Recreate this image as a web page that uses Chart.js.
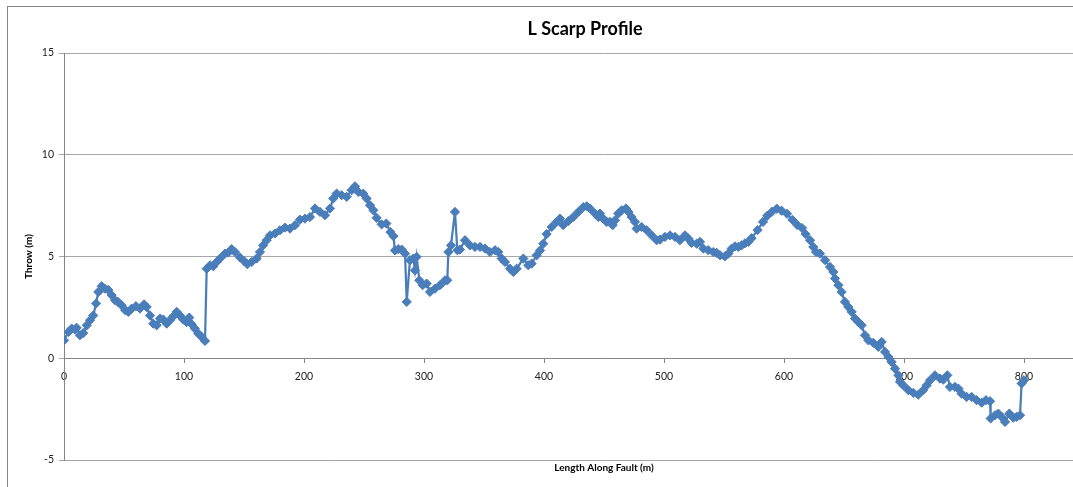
<!DOCTYPE html>
<html>
<head>
<meta charset="utf-8">
<script src="https://cdn.jsdelivr.net/npm/chart.js@4/dist/chart.umd.min.js"></script>
<style>
html,body{margin:0;padding:0;background:#fff;overflow:hidden;width:1073px;height:487px}
canvas{display:block}
</style>
</head>
<body>
<canvas id="c" width="1170" height="520"></canvas>
<script>
// L scarp profile
const lengthAlong=[0,3.6,6.4,9.2,10.5,13.3,16,19,21.7,24.4,26.7,28.6,31.4,34,36.9,39.7,42.5,45,48,51,53.6,56.4,60,63.3,66.7,68.9,71.7,74.4,77.2,80,82.8,85.6,88.3,91.1,93.9,96.7,99.4,102.2,104.4,106.4,109,112,114.7,117.5,
118.9,121.7,124.4,127.2,130,134.2,137,139.7,142.5,146.7,150,152.8,156.4,160.5,163.3,166,168.9,171.7,175.8,180,184.2,188.3,192.5,196.7,200.8,205,209.2,213.3,217.5,221.7,224.4,227.2,231.4,235.6,239.7,242.5,245.3,249.4,252.2,255,257.8,260.5,264.7,268.6,272,274.5,275.8,278.6,281.4,284.2,285.6,288.3,291.1,292.5,293.9,296.1,298.9,302.2,305,309.2,313.3,317.5,319.4,320.3,322.5,325.8,327.8,330,334.2,338.3,342.5,346.7,350.8,355,359.2,361.9,364.7,367.5,371.7,374.4,377.2,382.8,386.9,389.7,393.9,396.7,399.4,402.2,406.4,410.5,413.3,416,420.3,424.4,428.6,432.8,435.6,438.3,442.5,445.3,446.7,449.4,452.2,455,457.2,459.2,461.9,464.7,468.3,470.3,473,475.8,477.2,481.4,485.6,489.7,493.9,496.7,500.8,505,509.2,513.3,517.5,520.3,523,527.2,530,532.8,536.9,541,543.9,546.7,550.8,553.6,556.4,559.2,561.9,564.7,567.5,570.3,573,578,582.5,586,590,594,598,602.5,607,611,615,618,621.7,624.4,626.7,630,634.2,638.3,641.1,642.5,645.3,648,650.8,653.6,656.4,659.2,662,664.7,667.5,670.3,674.4,678.6,681.4,684.2,687,689.7,692.5,695.3,696.7,699.4,703.6,707.8,711.9,716,718.9,721.7,725.8,730,732.8,736.1,738.3,742.5,745.3,748,752.2,756.4,760.5,764.7,768.3,771.7,772.2,775.8,778.6,781.4,784.2,787.8,791.1,793.9,796.7,798,800];
const throwM=[0.88,1.29,1.46,1.41,1.5,1.13,1.24,1.62,1.87,2.1,2.69,3.26,3.54,3.42,3.36,3.1,2.85,2.77,2.6,2.36,2.28,2.44,2.56,2.44,2.65,2.52,2.1,1.7,1.62,1.95,1.9,1.7,1.87,2.06,2.28,2.1,1.9,1.78,2.0,1.67,1.46,1.21,1.05,0.85,
4.4,4.57,4.52,4.73,4.9,5.14,5.2,5.36,5.22,4.95,4.78,4.62,4.73,4.9,5.22,5.55,5.8,6.04,6.13,6.29,6.42,6.37,6.54,6.81,6.86,6.94,7.36,7.19,7.03,7.36,7.85,8.09,8.01,7.93,8.26,8.45,8.17,8.09,7.85,7.52,7.27,6.9,6.58,6.62,6.2,6.0,5.3,5.36,5.34,5.14,2.77,4.82,4.9,4.32,4.98,3.83,3.59,3.67,3.26,3.42,3.59,3.83,3.83,5.22,5.55,7.19,5.31,5.34,5.8,5.55,5.47,5.47,5.39,5.22,5.31,5.22,4.9,4.73,4.4,4.24,4.4,4.9,4.57,4.65,5.06,5.3,5.63,6.1,6.45,6.7,6.86,6.54,6.74,6.94,7.19,7.43,7.47,7.36,7.11,6.94,7.11,6.86,6.7,6.7,6.54,6.78,7.11,7.27,7.36,7.19,6.94,6.7,6.37,6.45,6.29,6.04,5.8,5.83,5.96,6.04,5.96,5.8,6.04,5.88,5.67,5.63,5.72,5.39,5.31,5.22,5.18,5.06,5.01,5.14,5.39,5.5,5.47,5.55,5.65,5.72,5.9,6.3,6.7,7.0,7.2,7.35,7.25,7.1,6.8,6.55,6.4,6.1,5.8,5.47,5.22,5.14,4.82,4.49,4.24,3.92,3.59,3.26,2.77,2.52,2.28,1.95,1.78,1.62,1.13,0.88,0.76,0.56,0.8,0.31,0.06,-0.18,-0.51,-0.84,-1.16,-1.33,-1.57,-1.7,-1.79,-1.57,-1.33,-1.08,-0.84,-1.0,-1.05,-0.84,-1.41,-1.41,-1.49,-1.74,-1.9,-1.9,-2.06,-2.18,-2.06,-2.11,-2.96,-2.8,-2.72,-2.88,-3.13,-2.72,-2.92,-2.88,-2.8,-1.24,-1.08];
const xTicks=[0,100,200,300,400,500,600,700,800,900];
const yTicks=[-5,0,5,10,15];

const blue='#4a7ebb', axisGray='#868686', gridGray='#a6a6a6';
const font="Lato, 'Open Sans', sans-serif";

const pts=lengthAlong.map((x,i)=>({x,y:throwM[i]}));

const decor={
  id:'decor',
  beforeDraw(c){
    const g=c.ctx;g.save();
    g.fillStyle='#fff';g.fillRect(0,0,c.width,c.height);
    g.strokeStyle=axisGray;g.lineWidth=1;g.strokeRect(7.5,6.5,1160,600);
    g.restore();
  },
  afterDraw(c){
    const g=c.ctx,a=c.chartArea;g.save();
    g.fillStyle='#000';g.textAlign='center';g.textBaseline='middle';
    g.font="bold 18px "+font;
    g.fillText('L Scarp Profile',585,29);
    g.font="bold 10px "+font;
    g.fillText('Length Along Fault (m)',(a.left+a.right)/2,468);
    g.translate(29,(a.top+a.bottom)/2);g.rotate(-Math.PI/2);
    g.fillText('Throw (m)',0,0);
    g.restore();
  }
};

new Chart(document.getElementById('c'),{
  type:'scatter',
  data:{datasets:[{
    label:'Throw',
    data:pts,
    showLine:true,
    borderColor:blue,backgroundColor:blue,
    borderWidth:2.25,
    pointStyle:'rectRot',pointRadius:4.6,pointBorderWidth:1,
    pointBackgroundColor:blue,pointBorderColor:blue,
    tension:0
  }]},
  options:{
    responsive:false,animation:false,
    layout:{padding:{left:0,top:53,right:26,bottom:60}},
    plugins:{legend:{display:false},tooltip:{enabled:false}},
    scales:{
      x:{
        type:'linear',min:0,max:900,position:{y:0},
        afterBuildTicks:s=>{s.ticks=xTicks.map(v=>({value:v}));},
        grid:{drawOnChartArea:false,drawTicks:true,tickLength:4,color:axisGray},
        border:{display:true,color:axisGray},
        ticks:{color:'#222',font:{family:font,size:10.5},padding:8,maxRotation:0}
      },
      y:{
        type:'linear',min:-5,max:15,position:'left',
        afterBuildTicks:s=>{s.ticks=yTicks.map(v=>({value:v}));},
        afterFit:s=>{s.width=64;},
        grid:{color:gridGray,tickLength:5,drawTicks:true},
        border:{display:true,color:axisGray},
        ticks:{color:'#222',font:{family:font,size:10.5},padding:5}
      }
    }
  },
  plugins:[decor]
});
</script>
</body>
</html>
